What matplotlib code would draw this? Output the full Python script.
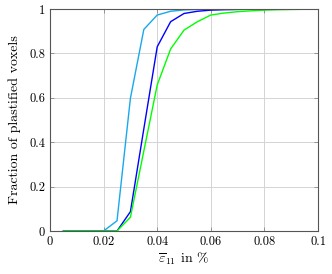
import matplotlib

matplotlib.use("Agg")
import matplotlib.pyplot as plt

plt.rcParams["font.family"] = "serif"
plt.rcParams["font.serif"] = ["cmr10", "DejaVu Serif"]
plt.rcParams["mathtext.fontset"] = "cm"
plt.rcParams["axes.formatter.use_mathtext"] = True

# deformation in %
strain = [0.005, 0.01, 0.015, 0.02, 0.025, 0.03, 0.035, 0.04, 0.045, 0.05,
          0.055, 0.06, 0.065, 0.07, 0.075, 0.08, 0.085, 0.09, 0.095, 0.1]
frac_light = [0, 0, 0, 0, 0.046, 0.598, 0.908, 0.973, 0.99, 0.996,
              0.998, 0.999, 1, 1, 1, 1, 1, 1, 1, 1]
frac_blue = [0, 0, 0, 0, 0, 0.087, 0.46, 0.83, 0.943, 0.98,
             0.99, 0.995, 0.997, 0.998, 0.999, 1, 1, 1, 1, 1]
frac_green = [0, 0, 0, 0, 0, 0.062, 0.36, 0.658, 0.82, 0.905,
              0.943, 0.973, 0.982, 0.988, 0.992, 0.995, 0.997, 0.998, 0.999, 1]

xticks = [0, 0.02, 0.04, 0.06, 0.08, 0.1]
yticks = [0, 0.2, 0.4, 0.6, 0.8, 1]

fig = plt.figure(figsize=(3.32, 2.74), dpi=100)
ax = fig.add_axes([0.1506, 0.157, 0.8074, 0.81])

ax.plot(strain, frac_light, color="#18a8ec", lw=1.0)
ax.plot(strain, frac_blue, color="#0000ff", lw=1.0)
ax.plot(strain, frac_green, color="#00ff00", lw=1.0)

ax.set_xlim(0, 0.1)
ax.set_ylim(0, 1)
ax.set_xticks(xticks)
ax.set_xticklabels([f"{t:g}" for t in xticks])
ax.set_yticks(yticks)
ax.set_yticklabels([f"{t:g}" for t in yticks])
ax.grid(color="#d4d4d4", lw=0.7)
ax.set_axisbelow(True)
ax.tick_params(direction="in", length=3, width=0.6, labelsize=9, top=True, right=True,
               color="#888888")
for s in ax.spines.values():
    s.set_color("#555555")
    s.set_linewidth(0.8)
ax.set_xlabel(r"$\overline{\varepsilon}_{11}$ in %", fontsize=10, labelpad=2)
ax.set_ylabel("Fraction of plastified voxels", fontsize=10, labelpad=6)

fig.savefig("out.png", dpi=100)
